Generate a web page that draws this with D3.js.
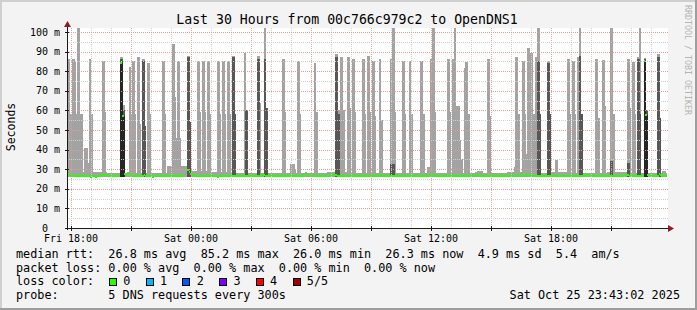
<!DOCTYPE html>
<html><head><meta charset="utf-8">
<script src="https://cdn.jsdelivr.net/npm/d3@7"></script>
<style>
html,body{margin:0;padding:0;background:#f3f3f3;}
svg{display:block;font-family:"DejaVu Sans Mono",monospace;}
</style>
</head><body>
<svg id="chart" width="697" height="310"></svg>
<script>
// ---------------- data ----------------
const chartTitle = "Last 30 Hours from 00c766c979c2 to OpenDNS1";
const yAxisLabel = "Seconds";
const watermark = "RRDTOOL / TOBI OETIKER";
const startTime = new Date(2025, 9, 24, 17, 48);
const endTime = new Date(2025, 9, 25, 23, 48);
const stepMinutes = 5;
const minRtt = 26.0;

// median rtt (ms) per 5-minute step, one row per hour
const medianRtt = [
  28.0,27.2,26.5,26.3,26.4,26.3,26.5,26.4,26.3,26.3,26.5,26.4,
  26.3,26.4,26.2,26.3,26.3,26.2,26.4,26.3,26.5,27.2,27.5,26.8,
  26.4,26.3,26.3,26.4,26.5,26.3,26.4,26.6,84.0,57.0,27.5,26.8,
  28.0,27.5,26.6,26.4,26.3,26.5,26.4,26.3,26.4,26.6,26.8,26.4,
  26.3,26.4,26.3,26.2,26.5,26.8,26.4,26.3,26.3,26.4,26.6,26.3,
  26.4,26.3,26.5,26.4,26.3,26.4,26.3,26.5,26.3,26.4,26.6,30.6,
  29.8,28.5,27.5,26.8,26.4,26.3,26.4,26.3,26.5,26.4,26.3,26.4,
  26.3,26.4,26.6,26.3,26.4,26.3,26.2,26.4,26.5,26.3,26.4,26.3,
  26.4,26.3,26.5,26.4,26.3,26.6,26.4,26.3,26.4,26.3,26.5,26.4,
  26.3,26.4,26.3,26.5,26.6,26.4,26.3,26.4,26.3,26.8,27.2,26.5,
  26.4,26.3,26.4,26.3,26.5,26.4,26.3,26.3,26.4,26.6,26.4,26.3,
  26.3,26.4,26.3,26.5,26.4,26.3,26.4,26.3,26.5,26.4,26.3,27.8,
  27.5,26.6,26.4,26.3,26.4,26.3,26.5,26.4,26.3,26.4,26.3,26.5,
  26.4,26.3,26.5,27.8,27.5,26.8,26.4,26.3,26.5,26.4,26.3,26.4,
  26.3,26.5,26.4,26.3,26.4,26.6,26.3,26.4,26.3,26.5,26.4,26.3,
  26.4,26.3,26.5,26.4,26.3,26.4,26.3,27.8,27.2,26.5,26.4,26.3,
  26.4,26.3,26.4,26.6,26.3,26.4,26.3,26.5,26.4,26.3,26.4,26.3,
  26.5,26.4,26.3,26.4,26.3,26.5,26.4,26.3,26.4,26.6,26.4,26.3,
  26.4,26.3,27.8,27.3,26.6,26.4,26.3,26.4,26.3,26.5,26.4,26.3,
  26.4,26.3,26.5,26.4,26.3,26.4,26.3,26.5,26.4,26.3,26.4,26.3,
  26.4,26.3,26.5,26.4,26.3,27.8,27.2,26.5,26.4,26.3,26.4,26.3,
  26.4,26.3,26.5,26.4,26.3,26.4,26.3,26.5,26.4,26.3,26.4,26.5,
  26.4,26.3,26.5,26.4,27.3,26.6,26.4,26.3,27.5,26.6,26.4,27.0,
  26.4,27.6,26.8,26.4,26.3,26.4,26.3,26.5,26.4,26.3,26.4,26.3,
  26.4,26.3,26.5,26.4,26.3,26.4,26.3,26.5,26.4,26.3,26.4,26.3,
  26.4,26.3,26.5,26.4,26.3,26.4,26.3,26.5,26.4,26.3,26.4,27.6,
  27.0,26.4,26.3,26.5,26.4,26.3,26.4,26.3,26.5,26.4,26.3,26.4,
  26.3,26.4,26.5,26.3,26.4,26.3,26.5,26.4,26.3,26.4,26.3,27.6,
  27.0,26.4,26.3,26.5,26.4,26.3,26.4,26.3,26.5,26.4,85.0,57.5,
  27.0,26.4,26.3,26.5,26.4,26.3,26.4,27.6,26.8,26.4,26.3,26.4
];

// typical highest ping of the quiet steps, per hour (ms)
const baseTop = [28.5,28.5,28.0,28.0,28.0,31.5,29.0,28.5,28.0,28.0,28.0,28.0,28.0,28.5,28.0,
                 28.0,28.0,28.0,28.0,28.0,28.0,28.0,28.5,28.0,28.5,28.0,28.0,28.5,28.0,28.0];

// [step, highest ping (ms), second-highest ping (ms) or null]
const spikes = [
  [0,86,null],[1,58,null],[2,58,null],[3,86,null],[4,85,null],[5,58,null],[6,102,null],[7,58,null],[8,58,null],
  [10,41,null],[11,41,null],[12,33,null],[13,86,null],[14,58,null],
  [21,85,null],[22,59,null],
  [32,87,86],[33,63,60],
  [37,82,null],[38,58,null],[39,85,null],[40,58,null],
  [42,87,null],[43,53,null],
  [45,86,85],[46,52,52],
  [48,84,null],[49,58,null],
  [57,85,null],[58,58,null],
  [63,94,null],[64,67,null],[65,46,null],[66,85,null],[67,46,null],
  [72,88,87],[73,54,54],
  [78,85,null],[79,59,null],[81,85,null],[82,59,null],[84,85,null],[85,58,null],
  [90,85,null],[91,58,null],[93,85,null],[94,58,null],[96,85,null],[97,58,null],
  [99,88,87],[100,58,58],
  [106,89.5,null],[107,60,60],
  [114,88,86],[115,64,null],
  [118,102,86],[119,61,61],
  [129,86,null],[130,59,null],
  [134,32.5,null],[135,32.5,null],[136,30,null],
  [138,85,null],[139,58,null],
  [148,84,null],[149,59,null],
  [161,89,87],[162,60,58],
  [164,87,null],[165,60,null],
  [168,87,null],[169,61,null],
  [171,86,null],[172,59,null],
  [177,86,null],[178,58,null],
  [180,88,null],[181,59,null],
  [183,85,null],[184,57,null],
  [187,86,null],[188,55,null],
  [194,86,32.5],[195,102,32.5],[196,59,null],
  [201,85,null],[202,58,null],
  [205,85,null],[206,58,null],
  [212,85,null],[213,58,null],
  [216,31,null],
  [218,86,null],[219,102,null],[220,59,null],
  [228,86,null],[229,59,null],
  [231,86,null],[232,102,null],[233,62,null],[234,62,null],[235,45,null],[236,35,null],
  [238,81.5,null],[239,84.5,null],[240,58,null],
  [246,29,null],[247,29,null],[248,29,null],
  [252,86,null],[253,57,null],
  [268,31,null],[269,87,null],[270,58,null],
  [273,85,null],[274,58,null],[275,38,null],[276,92,null],[277,58,null],[278,89.5,null],[279,58,null],
  [281,87,null],[282,102,85],[283,58,58],
  [288,85,84],[289,58,58],
  [293,34.5,null],
  [300,86,null],[301,58,null],
  [303,85,null],[304,58,null],
  [306,87,null],[307,102,88],[308,58,58],
  [317,86,null],[318,56,null],
  [321,85.5,null],[322,62,null],
  [326,102,34],[327,58,null],
  [336,86,33],[337,61,null],
  [339,84.5,null],[340,58,null],
  [342,87,86],[343,102,58],
  [346,86.5,86],[347,60,60],
  [354,89,87],[355,56,56],
  [357,29,null],[358,29,null]
];

const yTickValues = [0,10,20,30,40,50,60,70,80,90,100];
const yTickLabels = ["0","10 m","20 m","30 m","40 m","50 m","60 m","70 m","80 m","90 m","100 m"];

const legendRtt  = "median rtt:  26.8 ms avg  85.2 ms max  26.0 ms min  26.3 ms now  4.9 ms sd  5.4  am/s";
const legendLoss = "packet loss: 0.00 % avg  0.00 % max  0.00 % min  0.00 % now";
const legendLossTitle = "loss color:";
const lossLabels = ["0","1","2","3","4","5/5"];
const lossColors = ["#26ff00","#00b8ff","#0059ff","#7e00ff","#ff0000","#a10000"];
const legendProbe = "probe:       5 DNS requests every 300s";
const stampText = "Sat Oct 25 23:43:02 2025";

// ---------------- drawing ----------------
const W = 697, H = 310;
const plotL = 67, plotR = 667, canvasR = 668, plotTop = 28, plotBottom = 228;
const svg = d3.select("#chart");

const x = d3.scaleTime().domain([startTime, endTime]).range([plotL, plotR]);
const y = d3.scaleLinear().domain([0, 100]).range([plotBottom, 32]);

// background & frame
svg.append("rect").attr("width", W).attr("height", H).attr("fill", "#f3f3f3");
svg.append("rect").attr("x",0).attr("y",0).attr("width",W).attr("height",2).attr("fill","#cfcfcf");
svg.append("rect").attr("x",0).attr("y",0).attr("width",2).attr("height",H).attr("fill","#cfcfcf");
svg.append("rect").attr("x",0).attr("y",H-2).attr("width",W).attr("height",2).attr("fill","#9e9e9e");
svg.append("rect").attr("x",W-2).attr("y",0).attr("width",2).attr("height",H).attr("fill","#9e9e9e");

// canvas
svg.append("rect").attr("x", plotL).attr("y", plotTop).attr("width", canvasR - plotL).attr("height", plotBottom - plotTop).attr("fill", "#ffffff");

svg.append("clipPath").attr("id","clip").append("rect")
  .attr("x", plotL).attr("y", plotTop).attr("width", canvasR - plotL).attr("height", plotBottom - plotTop);

const dataG = svg.append("g").attr("clip-path","url(#clip)").attr("shape-rendering","crispEdges");

const spikeMap = new Map(spikes.map(s => [s[0], s]));
const stepTime = i => new Date(startTime.getTime() + i * stepMinutes * 60000);

const steps = medianRtt.map((m, i) => {
  const sp = spikeMap.get(i);
  const hourTop = baseTop[Math.floor(i / 12)];
  const p5 = sp ? Math.max(sp[1], m + 0.6) : Math.max(hourTop, m + 0.6);
  const p4 = sp && sp[2] != null ? sp[2] : null;
  const x0 = Math.round(x(stepTime(i)));
  const x1 = Math.round(x(stepTime(i + 1)));
  return {i, m, p5, p4, x0, x1, spike: !!sp};
});
const barW = d => Math.max(1, d.x1 - d.x0) + (d.spike ? 1 : 0);

// light smoke (lowest to highest ping)
dataG.selectAll("rect.light").data(steps).join("rect").attr("class","light")
  .attr("x", d => d.x0).attr("width", barW)
  .attr("y", d => y(d.p5)).attr("height", d => y(minRtt - 0.2) - y(d.p5))
  .attr("fill", "#a3a3a3");

// darker smoke (inner pings)
dataG.selectAll("rect.dark").data(steps.filter(d => d.p4 != null)).join("rect").attr("class","dark")
  .attr("x", d => d.x0).attr("width", barW)
  .attr("y", d => y(d.p4)).attr("height", d => y(minRtt) - y(d.p4))
  .attr("fill", "#575757");

// darkest (median itself far up)
dataG.selectAll("rect.darkest").data(steps.filter(d => d.m > 35)).join("rect").attr("class","darkest")
  .attr("x", d => d.x0).attr("width", barW)
  .attr("y", d => y(d.m)).attr("height", d => y(minRtt) - y(d.m))
  .attr("fill", "#262626");

// grid (drawn above the smoke, like rrdtool)
const gridG = svg.append("g").attr("shape-rendering","crispEdges");
const hourTicks = d3.timeHour.every(1).range(startTime, endTime);
hourTicks.forEach(t => {
  const major = t.getHours() % 3 === 0;
  const xx = Math.round(x(t)) + 0.5;
  gridG.append("line").attr("x1", xx).attr("x2", xx).attr("y1", plotTop).attr("y2", plotBottom)
    .attr("stroke", major ? "#e39a9a" : "#cfcfcf").attr("stroke-width", 1)
    .attr("stroke-dasharray", "1,1").attr("opacity", 0.9);
});
d3.range(5, 101, 5).forEach(v => {
  const major = v % 10 === 0;
  const yy = Math.round(y(v)) + 0.5;
  gridG.append("line").attr("x1", plotL).attr("x2", canvasR).attr("y1", yy).attr("y2", yy)
    .attr("stroke", major ? "#e39a9a" : "#cfcfcf").attr("stroke-width", 1)
    .attr("stroke-dasharray", "1,1");
});

// median line, coloured by loss (all 0 -> green)
dataG.selectAll("rect.med").data(steps).join("rect").attr("class","med")
  .attr("x", d => d.x0).attr("width", d => Math.max(1, d.x1 - d.x0))
  .attr("y", d => Math.round(y(d.m)) - 1).attr("height", 2)
  .attr("fill", lossColors[0]);

// axes
const axisColor = "#1a1a1a", arrowColor = "#8f1f1f";
svg.append("line").attr("x1", plotL - 2).attr("x2", canvasR + 1).attr("y1", plotBottom + 0.5).attr("y2", plotBottom + 0.5)
  .attr("stroke", axisColor).attr("shape-rendering","crispEdges");
svg.append("line").attr("x1", plotL + 0.5).attr("x2", plotL + 0.5).attr("y1", plotBottom + 2).attr("y2", 25)
  .attr("stroke", axisColor).attr("shape-rendering","crispEdges");
svg.append("path").attr("d", `M${plotL+0.5},21 L${plotL+4},27 L${plotL-3},27 Z`).attr("fill", arrowColor);
svg.append("path").attr("d", `M${canvasR+6},${plotBottom+0.5} L${canvasR},${plotBottom-3} L${canvasR},${plotBottom+4} Z`).attr("fill", arrowColor);

// x axis ticks & labels
hourTicks.filter(t => t.getHours() % 3 === 0).forEach(t => {
  const xx = Math.round(x(t)) + 0.5;
  svg.append("line").attr("x1", xx).attr("x2", xx).attr("y1", plotBottom - 2).attr("y2", plotBottom + 3)
    .attr("stroke", axisColor).attr("shape-rendering","crispEdges");
});
const fmt = d3.timeFormat("%a %H:%M");
hourTicks.filter(t => t.getHours() % 6 === 0).forEach(t => {
  svg.append("text").attr("x", x(t)).attr("y", 242).attr("text-anchor","middle")
    .attr("font-size", "10px").attr("fill", "#000").text(fmt(t));
});

// y axis ticks & labels
yTickValues.forEach((v, k) => {
  const yy = Math.round(y(v)) + 0.5;
  svg.append("line").attr("x1", plotL - 2).attr("x2", plotL + 2).attr("y1", yy).attr("y2", yy)
    .attr("stroke", axisColor).attr("shape-rendering","crispEdges");
  const lab = yTickLabels[k];
  const pad = lab.indexOf(" m") >= 0 ? 0 : 12;
  svg.append("text").attr("x", 60 - pad).attr("y", y(v) + 3.5).attr("text-anchor","end")
    .attr("font-size","10px").attr("fill","#000").text(lab);
});

// title, y label, watermark
svg.append("text").attr("x", 347).attr("y", 24).attr("text-anchor","middle")
  .attr("font-size","13.2px").attr("fill","#000").text(chartTitle);
svg.append("text").attr("transform","translate(15,127) rotate(-90)").attr("text-anchor","middle")
  .attr("font-size","11.5px").attr("fill","#000").text(yAxisLabel);
svg.append("text").attr("transform","translate(685,60) rotate(90)").attr("text-anchor","middle")
  .attr("font-size","8.3px").attr("fill","#b4b4b4").text(watermark);

// legend
const lg = svg.append("g").attr("font-size","11.8px").attr("fill","#000");
const putLine = (txt, yy) => lg.append("text").attr("x",16).attr("y",yy).attr("xml:space","preserve").style("white-space","pre").text(txt);
putLine(legendRtt, 258);
putLine(legendLoss, 271.6);
putLine(legendLossTitle, 285.2);
putLine(legendProbe, 298.8);
lossLabels.forEach((lab, k) => {
  const bx = 109 + k * 36.7;
  lg.append("rect").attr("x", Math.round(bx) + 0.5).attr("y", 278.5).attr("width", 7).attr("height", 7)
    .attr("fill", lossColors[k]).attr("stroke", "#000").attr("stroke-width", 1).attr("shape-rendering","crispEdges");
  lg.append("text").attr("x", bx + 14.3).attr("y", 285.2).text(lab);
});
lg.append("text").attr("x", 680).attr("y", 298.8).attr("text-anchor","end").text(stampText);
</script>
</body></html>
